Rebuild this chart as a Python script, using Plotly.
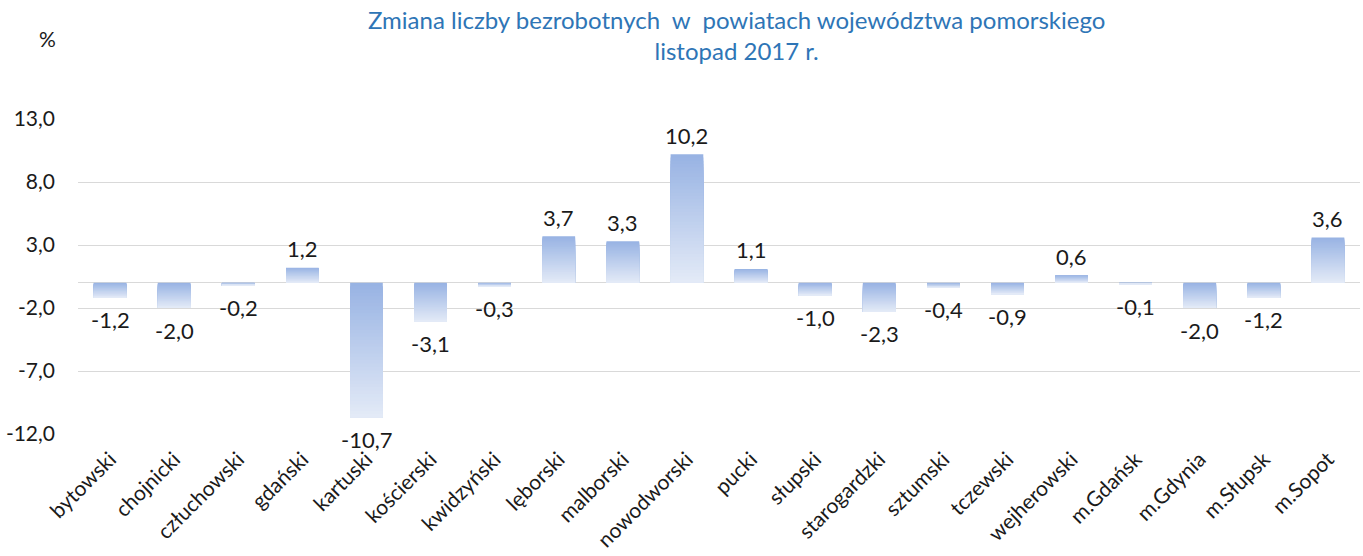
import plotly.graph_objects as go

categories = ["bytowski", "chojnicki", "człuchowski", "gdański", "kartuski", "kościerski",
              "kwidzyński", "lęborski", "malborski", "nowodworski", "pucki", "słupski",
              "starogardzki", "sztumski", "tczewski", "wejherowski", "m.Gdańsk", "m.Gdynia",
              "m.Słupsk", "m.Sopot"]
values = [-1.2, -2.0, -0.2, 1.2, -10.7, -3.1, -0.3, 3.7, 3.3, 10.2, 1.1, -1.0,
          -2.3, -0.4, -0.9, 0.6, -0.1, -2.0, -1.2, 3.6]
y_tickvals = [13, 8, 3, -2, -7, -12]
y_ticktext = ["13,0", "8,0", "3,0", "-2,0", "-7,0", "-12,0"]
title_text = "Zmiana liczby bezrobotnych  w  powiatach województwa pomorskiego<br>listopad 2017 r."

FONT = "Lato, Carlito, Calibri, sans-serif"
TEXT_COLOR = "#1a1a1a"
dark = (152, 179, 227)
light = (227, 234, 247)
N = 40
BAR_W = 0.51

fig = go.Figure()
# gradient simulated with stacked overlay bars (dark at top of each bar, light at bottom)
for j in range(N):
    t = j / (N - 1)
    col = "rgb(%d,%d,%d)" % tuple(round(dark[i] + (light[i] - dark[i]) * t) for i in range(3))
    frac = 1 - j / N
    bases = [0 if v >= 0 else v for v in values]
    lens = [abs(v) * frac for v in values]
    fig.add_trace(go.Bar(x=categories, y=lens, base=bases, width=BAR_W,
                         marker=dict(color=col, line=dict(width=0)),
                         hoverinfo="skip", showlegend=False))

for c, v in zip(categories, values):
    fig.add_annotation(x=c, y=v, text=f"{v:.1f}".replace(".", ","), showarrow=False,
                       yshift=19 if v >= 0 else -22,
                       font=dict(family=FONT, size=22, color=TEXT_COLOR))

fig.add_annotation(xref="paper", yref="paper", x=-0.024, y=1.257, text="%", showarrow=False,
                   xanchor="center", yanchor="middle",
                   font=dict(family=FONT, size=21, color=TEXT_COLOR))

fig.add_annotation(xref="paper", yref="paper", x=0.514, y=1.268, text=title_text,
                   showarrow=False, xanchor="center", yanchor="middle", align="center",
                   font=dict(family=FONT, size=24, color="#2E75B6"))

fig.update_layout(
    width=1363, height=556,
    margin=dict(l=78, r=3, t=119, b=122),
    paper_bgcolor="white", plot_bgcolor="white",
    barmode="overlay", bargap=0.49,
    font=dict(family=FONT, size=21, color=TEXT_COLOR),
    xaxis=dict(type="category", tickangle=-45, showgrid=False, showline=False, ticks="",
               ticklabelstandoff=8, automargin=False,
               tickfont=dict(family=FONT, size=21, color=TEXT_COLOR)),
    yaxis=dict(range=[-12, 13], tickvals=y_tickvals, ticktext=y_ticktext,
               showgrid=True, gridcolor="#D9D9D9", gridwidth=1,
               zeroline=True, zerolinecolor="#D9D9D9", zerolinewidth=1,
               showline=False, ticks="", ticklabelstandoff=22, automargin=False,
               tickfont=dict(family=FONT, size=21, color=TEXT_COLOR)),
)

fig.write_html("out.html", config={"displayModeBar": False},
               post_script="document.body.style.margin='0';")
